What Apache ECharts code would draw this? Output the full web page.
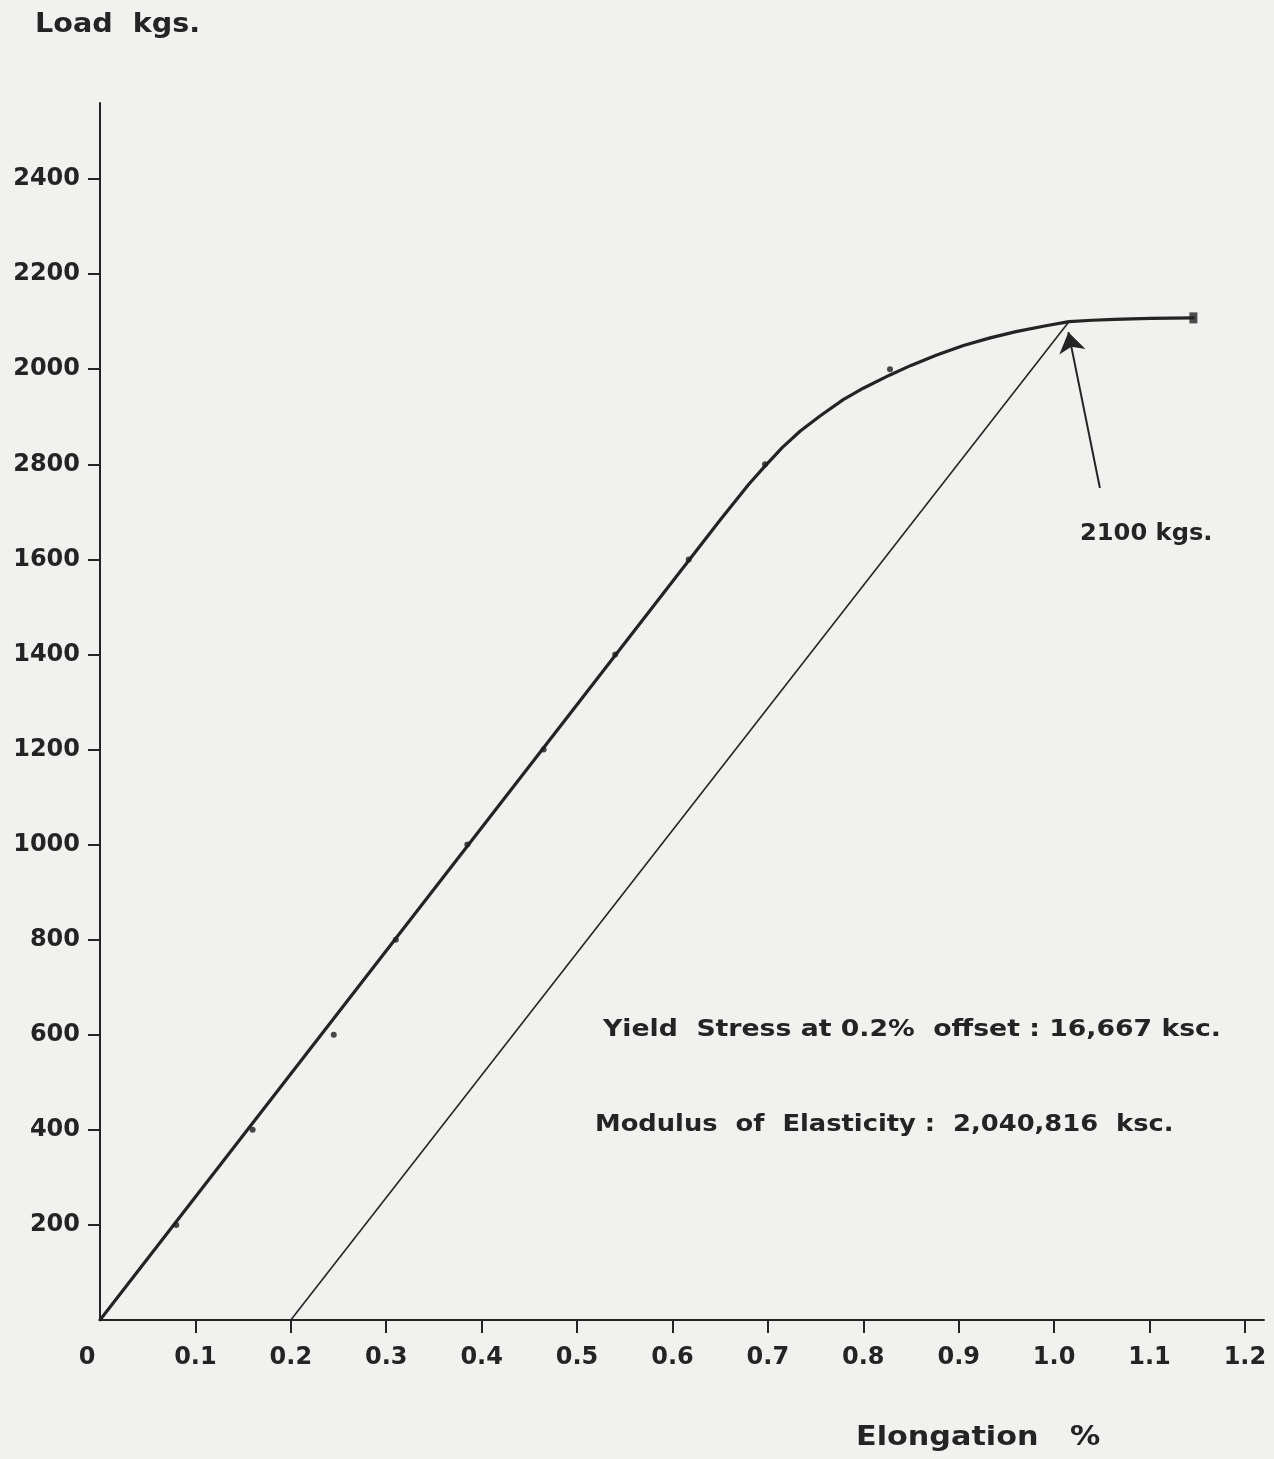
<!DOCTYPE html>
<html>
<head>
<meta charset="utf-8">
<title>Load – Elongation</title>
<script src="https://cdn.jsdelivr.net/npm/echarts@6/dist/echarts.min.js"></script>
<style>
  html, body { margin: 0; padding: 0; background: #f1f1ef; }
  #chart { width: 1274px; height: 1459px; }
</style>
</head>
<body>
<div id="chart"></div>
<script>
// Elongation (%) tick positions and their printed labels
const xTickValues = [0, 0.1, 0.2, 0.3, 0.4, 0.5, 0.6, 0.7, 0.8, 0.9, 1.0, 1.1, 1.2];
const xTickLabels = ['0', '0.1', '0.2', '0.3', '0.4', '0.5', '0.6', '0.7', '0.8', '0.9', '1.0', '1.1', '1.2'];

// Load (kgs) tick positions and their printed labels (1800 is printed as "2800")
const yTickValues = [200, 400, 600, 800, 1000, 1200, 1400, 1600, 1800, 2000, 2200, 2400];
const yTickLabels = ['200', '400', '600', '800', '1000', '1200', '1400', '1600', '2800', '2000', '2200', '2400'];

// Measured test points: elongation %, load kgs
const testElong = [0.08, 0.16, 0.245, 0.31, 0.385, 0.465, 0.54, 0.617, 0.697, 0.828];
const testLoad  = [200, 400, 600, 800, 1000, 1200, 1400, 1600, 1800, 2000];

// Fitted load-elongation curve: straight elastic part, then the yield knee
const curveElong = [0, 0.65, 0.68, 0.696, 0.715, 0.734, 0.755, 0.779, 0.80, 0.828, 0.85, 0.877, 0.905, 0.933, 0.96, 0.99, 1.0155, 1.04, 1.063, 1.101, 1.146];
const curveLoad  = [0, 1683, 1758, 1794, 1835, 1870, 1902, 1936, 1960, 1988, 2008, 2030, 2050, 2066, 2079, 2091, 2100, 2103, 2105, 2107, 2108];

// 0.2 % offset line, from the offset origin to the yield point
const offsetElong = [0.2, 1.0155];
const offsetLoad  = [0, 2100];

// Pointer to the yield load: tail, tip
const arrowElong = [1.048, 1.015];
const arrowLoad  = [1750, 2078];

const INK = '#242424';
const FONT = '"DejaVu Sans", "Liberation Sans", sans-serif';

const zip = (a, b) => a.map((v, i) => [v, b[i]]);
const curvePts = zip(curveElong, curveLoad);

const chart = echarts.init(document.getElementById('chart'), null, { renderer: 'canvas' });

chart.setOption({
  backgroundColor: '#f1f1ef',
  animation: false,
  grid: { left: 100, right: 10, top: 103, bottom: 139, containLabel: false },
  xAxis: {
    type: 'value',
    min: 0,
    max: 1.22,
    axisLine: { show: true, lineStyle: { color: INK, width: 2 } },
    axisTick: {
      show: true,
      customValues: xTickValues.slice(1),
      length: 13,
      lineStyle: { color: INK, width: 2 }
    },
    splitLine: { show: false },
    axisLabel: {
      customValues: xTickValues,
      margin: 26,
      color: INK,
      fontFamily: FONT,
      fontSize: 24,
      fontWeight: 'bold',
      formatter: function (v) {
        const i = xTickValues.findIndex(t => Math.abs(t - v) < 1e-6);
        const s = i >= 0 ? xTickLabels[i] : '';
        return v === 0 ? '{z|' + s + '}' : s;
      },
      rich: {
        z: { padding: [0, 26, 0, 0], color: INK, fontFamily: FONT, fontSize: 24, fontWeight: 'bold' }
      }
    }
  },
  yAxis: {
    type: 'value',
    min: 0,
    max: 2560,
    axisLine: { show: true, lineStyle: { color: INK, width: 2 } },
    axisTick: {
      show: true,
      customValues: yTickValues,
      length: 12,
      lineStyle: { color: INK, width: 2 }
    },
    splitLine: { show: false },
    axisLabel: {
      customValues: yTickValues,
      margin: 20,
      color: INK,
      fontFamily: FONT,
      fontSize: 24,
      fontWeight: 'bold',
      formatter: function (v) {
        const i = yTickValues.indexOf(v);
        return i >= 0 ? yTickLabels[i] : '';
      }
    }
  },
  series: [
    {
      name: 'Load curve',
      type: 'line',
      data: curvePts,
      smooth: false,
      showSymbol: false,
      lineStyle: { color: INK, width: 3.2, join: 'round', cap: 'round' },
      z: 3
    },
    {
      name: 'Offset 0.2%',
      type: 'line',
      data: zip(offsetElong, offsetLoad),
      showSymbol: false,
      lineStyle: { color: INK, width: 1.6 },
      z: 2
    },
    {
      name: 'Test points',
      type: 'scatter',
      data: zip(testElong, testLoad),
      symbol: 'circle',
      symbolSize: 6,
      itemStyle: { color: '#1e1e1e' },
      z: 4
    },
    {
      name: 'End',
      type: 'scatter',
      data: [curvePts[curvePts.length - 1]],
      symbol: 'rect',
      symbolSize: [8, 11],
      itemStyle: { color: INK },
      z: 4
    },
    {
      name: 'Yield pointer',
      type: 'lines',
      coordinateSystem: 'cartesian2d',
      data: [{ coords: zip(arrowElong, arrowLoad) }],
      symbol: ['none', 'arrow'],
      symbolSize: [9, 20],
      lineStyle: { color: INK, width: 2, opacity: 1, curveness: 0 },
      z: 5
    }
  ],
  graphic: [
    {
      type: 'text', left: 35, top: 11, scaleX: 1.06,
      style: { text: 'Load  kgs.', font: 'bold 27px ' + FONT, fill: INK }
    },
    {
      type: 'text', left: 856, top: 1424, scaleX: 1.12,
      style: { text: 'Elongation   %', font: 'bold 27px ' + FONT, fill: INK }
    },
    {
      type: 'text', left: 1080, top: 523, scaleX: 1.05,
      style: { text: '2100 kgs.', font: 'bold 23px ' + FONT, fill: INK }
    },
    {
      type: 'text', left: 603, top: 1019, scaleX: 1.16,
      style: { text: 'Yield  Stress at 0.2%  offset : 16,667 ksc.', font: 'bold 23px ' + FONT, fill: INK }
    },
    {
      type: 'text', left: 595, top: 1114, scaleX: 1.12,
      style: { text: 'Modulus  of  Elasticity :  2,040,816  ksc.', font: 'bold 23px ' + FONT, fill: INK }
    }
  ]
});
</script>
</body>
</html>
